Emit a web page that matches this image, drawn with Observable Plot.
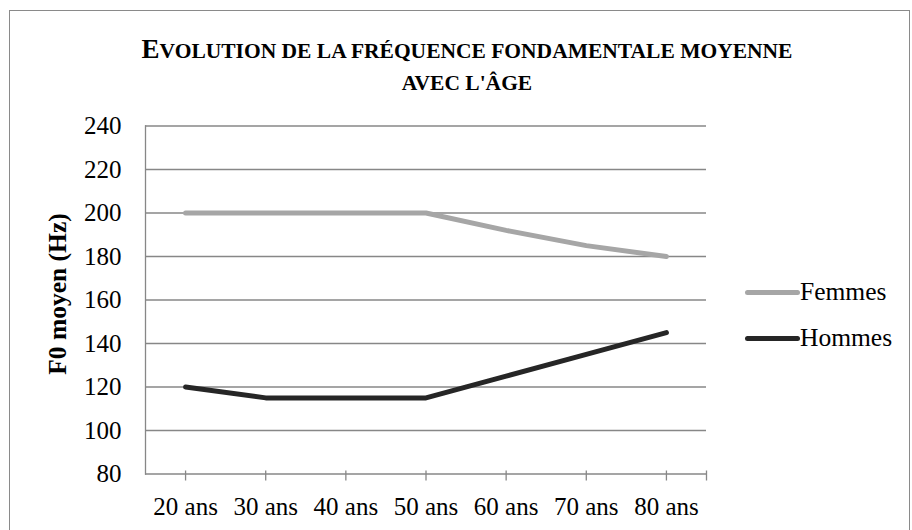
<!DOCTYPE html>
<html><head><meta charset="utf-8">
<script src="https://cdn.jsdelivr.net/npm/d3@7"></script>
<script src="https://cdn.jsdelivr.net/npm/@observablehq/plot@0.6"></script>
<style>
body{margin:0;background:#fff;}
#wrap{position:relative;width:912px;height:530px;overflow:hidden;font-family:"Liberation Serif","Times New Roman",serif;color:#000;}
#border{position:absolute;left:9px;top:10px;width:901px;height:560px;border:1.5px solid #8a8a8a;box-sizing:border-box;}
#title{position:absolute;left:0;top:33px;width:934px;text-align:center;font-weight:bold;text-transform:uppercase;font-size:21.5px;line-height:32px;}
#title .big{font-size:27px;}
#chart{position:absolute;left:0;top:0;}
.leg{position:absolute;left:745px;display:flex;align-items:center;font-size:25.5px;}
.leg span.sw{display:inline-block;width:55px;height:5px;border-radius:3px;}
</style>
</head><body>
<div id="wrap">
  <div id="border"></div>
  <div id="chart"></div>
  <div id="title"><span class="big">E</span>volution de la fréquence fondamentale moyenne<br>avec l'âge</div>
  <div id="legend"></div>
</div>
<script>
const ages = ["20 ans","30 ans","40 ans","50 ans","60 ans","70 ans","80 ans"];
const femmes = [200,200,200,200,192,185,180];
const hommes = [120,115,115,115,125,135,145];
const seriesNames = ["Femmes","Hommes"];
const seriesColors = ["#a6a6a6","#262626"];
const yTicks = [80,100,120,140,160,180,200,220,240];
const yLabel = "F0 moyen (Hz)";

const rows = [];
ages.forEach((a,i)=>{ rows.push({i, age:a, series:"Femmes", v:femmes[i]}); rows.push({i, age:a, series:"Hommes", v:hommes[i]}); });
const xTickPos = [...ages.keys(), ages.length - 0.5];
const FONT = '"Liberation Serif","Times New Roman",serif';

const chart = Plot.plot({
  width: 912, height: 530,
  marginLeft: 145, marginRight: 206, marginTop: 125.5, marginBottom: 56.5,
  style: {fontFamily: FONT, background: "transparent", color: "#000"},
  x: {type: "linear", domain: [-0.5, ages.length - 0.5]},
  y: {domain: [yTicks[0], yTicks[yTicks.length-1]]},
  color: {domain: seriesNames, range: seriesColors},
  marks: [
    Plot.gridY(yTicks, {stroke: "#878787", strokeOpacity: 1, strokeWidth: 1.3}),
    Plot.frame({anchor: "left", stroke: "#878787", strokeWidth: 1.3}),
    Plot.ruleX(xTickPos, {x: d => d, y1: yTicks[0], y2: yTicks[0], insetTop: -3, insetBottom: -7, stroke: "#878787", strokeWidth: 1.3}),
    Plot.axisY(yTicks, {tickSize: 0, tickPadding: 24, fontSize: 25, label: null, tickFormat: d => d}),
    Plot.axisX(ages.map((a,i)=>i), {tickSize: 0, tickPadding: 23, fontSize: 25, label: null, tickFormat: i => ages[i]}),
    Plot.text([yLabel], {frameAnchor: "left", textAnchor: "middle", rotate: -90, dx: -88, dy: -6, fontSize: 25.5, fontWeight: "bold"}),
    Plot.line(rows, {x: "i", y: "v", z: "series", stroke: "series", strokeWidth: 5, strokeLinecap: "round", strokeLinejoin: "round"})
  ]
});
document.getElementById("chart").appendChild(chart);

const legend = document.getElementById("legend");
seriesNames.forEach((n,k)=>{
  const d = document.createElement("div");
  d.className = "leg";
  d.style.top = (277 + k*46) + "px";
  d.innerHTML = `<span class="sw" style="background:${seriesColors[k]}"></span><span>${n}</span>`;
  legend.appendChild(d);
});
</script>
</body></html>
